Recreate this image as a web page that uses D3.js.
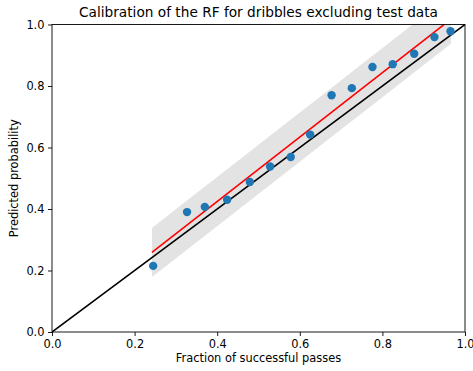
<!DOCTYPE html>
<html><head><meta charset="utf-8">
<script src="https://cdn.jsdelivr.net/npm/d3@7"></script>
<style>body{margin:0;background:#fff}svg{display:block}text{font-family:"DejaVu Sans",sans-serif;fill:#000}</style>
</head><body><svg id="c" width="473" height="371"></svg>
<script>
const fracPos = [0.245,0.327,0.370,0.424,0.479,0.528,0.578,0.625,0.677,0.726,0.776,0.825,0.877,0.926,0.965];
const predProb = [0.215,0.390,0.407,0.430,0.488,0.538,0.569,0.642,0.770,0.793,0.862,0.871,0.905,0.959,0.978];
const fitSlope = 1.048, fitIntercept = 0.005, bandHalf = 0.08;
const fitRange = [0.242, 0.966];
const ticks = [0,0.2,0.4,0.6,0.8,1.0];
const title = "Calibration of the RF for dribbles excluding test data";
const xLabel = "Fraction of successful passes";
const yLabel = "Predicted probability";

const L=52,R=465,T=24.5,B=332;
const svg=d3.select("#c");
const x=d3.scaleLinear().domain([0,1]).range([L,R]);
const y=d3.scaleLinear().domain([0,1]).range([B,T]);
svg.append("defs").append("clipPath").attr("id","clip").append("rect").attr("x",L).attr("y",T).attr("width",R-L).attr("height",B-T);
const g=svg.append("g").attr("clip-path","url(#clip)");
const fx=v=>fitSlope*v+fitIntercept;
const bandPts=d3.range(0,11).map(i=>fitRange[0]+(fitRange[1]-fitRange[0])*i/10);
g.append("path").datum(bandPts).attr("fill","#e3e3e3")
 .attr("d",d3.area().x(d=>x(d)).y0(d=>y(fx(d)-bandHalf)).y1(d=>y(fx(d)+bandHalf)));
g.append("line").attr("x1",x(fitRange[0])).attr("y1",y(fx(fitRange[0]))).attr("x2",x(fitRange[1])).attr("y2",y(fx(fitRange[1])))
 .attr("stroke","red").attr("stroke-width",1.6);
g.append("line").attr("x1",x(0)).attr("y1",y(0)).attr("x2",x(1)).attr("y2",y(1)).attr("stroke","#000").attr("stroke-width",1.6);
g.selectAll("circle").data(fracPos).join("circle").attr("cx",d=>x(d)).attr("cy",(d,i)=>y(predProb[i])).attr("r",4.2).attr("fill","#1f77b4");

const fmt=d3.format(".1f");
const xa=svg.append("g").attr("transform",`translate(0,${B})`).call(d3.axisBottom(x).tickValues(ticks).tickFormat(fmt).tickSize(4).tickPadding(3.5));
const ya=svg.append("g").attr("transform",`translate(${L},0)`).call(d3.axisLeft(y).tickValues(ticks).tickFormat(fmt).tickSize(4).tickPadding(3.5));
[xa,ya].forEach(a=>{a.select(".domain").remove();a.selectAll("text").attr("font-size",11.4).attr("font-family","DejaVu Sans").attr("fill","#000");a.selectAll("line").attr("stroke","#000").attr("stroke-width",0.9);});
svg.append("rect").attr("x",L).attr("y",T).attr("width",R-L).attr("height",B-T).attr("fill","none").attr("stroke","#000").attr("stroke-width",0.9);
svg.append("text").attr("x",(L+R)/2).attr("y",17).attr("text-anchor","middle").attr("font-size",13.7).text(title);
svg.append("text").attr("x",(L+R)/2).attr("y",362).attr("text-anchor","middle").attr("font-size",11.4).text(xLabel);
svg.append("text").attr("transform",`translate(18,${(T+B)/2}) rotate(-90)`).attr("text-anchor","middle").attr("font-size",11.4).text(yLabel);
</script></body></html>
